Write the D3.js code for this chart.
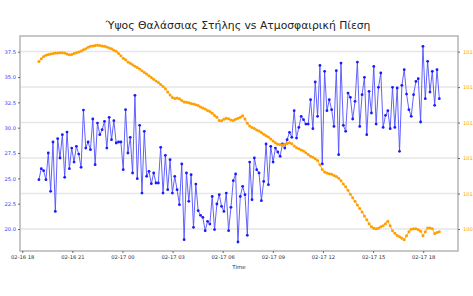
<!DOCTYPE html>
<html>
<head>
<meta charset="utf-8">
<script src="https://cdn.jsdelivr.net/npm/d3@7"></script>
<style>
  body { margin: 0; background: #fff; }
  svg { display: block; font-family: "DejaVu Sans", sans-serif; }
</style>
</head>
<body>
<div id="chart"></div>
<script>
// water column height, one reading per step (left axis)
const waterLevel = [
  24.87, 25.96, 25.76, 24.87, 27.50, 23.72, 28.59, 21.74, 28.92, 27.01, 29.31, 25.10, 29.57, 25.96, 27.99, 26.61,
  28.16, 27.40, 26.09, 31.74, 27.99, 28.59, 27.83, 30.86, 26.35, 30.46, 29.31, 29.80, 30.63, 27.99, 31.02,
  28.82, 30.69, 28.49, 28.59, 28.59, 25.86, 31.78, 27.50, 29.05, 25.53, 33.19, 24.97, 30.23, 23.55, 29.64, 25.20,
  25.69, 24.47, 25.53, 24.54, 24.54, 28.06, 23.55, 27.27, 23.88, 26.84, 23.55, 25.20, 23.88, 22.40, 26.42, 18.95,
  25.53, 22.73, 25.36, 20.17, 24.44, 21.81, 21.35, 21.15, 19.84, 20.76, 20.49, 23.22, 19.94, 22.47, 23.39, 22.24,
  21.74, 23.55, 19.84, 22.14, 24.77, 25.43, 18.72, 23.22, 24.21, 23.39, 19.38, 26.61, 22.90, 27.01, 25.86,
  25.53, 22.80, 24.70, 28.39, 24.38, 28.16, 26.61, 27.99, 27.60, 27.17, 28.39, 27.99, 28.82, 29.54, 29.05, 31.68,
  28.98, 30.03, 31.12, 30.79, 30.36, 30.36, 32.76, 29.90, 34.51, 31.12, 36.15, 26.42, 35.56, 31.68, 32.76,
  31.78, 30.13, 35.63, 27.34, 36.38, 30.23, 29.64, 33.42, 33.00, 30.86, 32.60, 36.48, 30.13, 33.26, 34.97, 29.31,
  33.59, 31.45, 36.05, 30.36, 33.98, 35.40, 30.03, 31.22, 31.68, 29.90, 33.98, 30.03, 33.92, 27.67, 34.18, 35.73,
  33.32, 31.78, 31.12, 33.26, 34.57, 34.84, 30.56, 38.03, 32.86, 36.55, 33.52, 35.56, 32.21, 35.73, 32.86
];

// atmospheric pressure, same timestamps (right axis)
const pressure = [
  1013.72, 1013.80, 1013.86, 1013.90, 1013.92, 1013.93, 1013.95, 1013.96, 1013.96, 1013.97, 1013.97, 1013.96,
  1013.93, 1013.91, 1013.92, 1013.95, 1013.97, 1013.99, 1014.02, 1014.05, 1014.08, 1014.12, 1014.15, 1014.16,
  1014.17, 1014.18, 1014.17, 1014.16, 1014.15, 1014.13, 1014.10, 1014.08, 1014.04, 1014.01, 1013.95, 1013.88,
  1013.81, 1013.77, 1013.71, 1013.67, 1013.63, 1013.59, 1013.55, 1013.51, 1013.46, 1013.41, 1013.37, 1013.32,
  1013.27, 1013.22, 1013.17, 1013.13, 1013.07, 1013.02, 1012.95, 1012.86, 1012.78, 1012.71, 1012.68, 1012.69,
  1012.67, 1012.62, 1012.58, 1012.57, 1012.56, 1012.54, 1012.52, 1012.50, 1012.48, 1012.44, 1012.41, 1012.38,
  1012.34, 1012.31, 1012.26, 1012.20, 1012.15, 1012.06, 1012.05, 1012.09, 1012.12, 1012.11, 1012.07, 1012.06,
  1012.09, 1012.12, 1012.15, 1012.19, 1012.10, 1011.98, 1011.90, 1011.86, 1011.83, 1011.79, 1011.76, 1011.72,
  1011.67, 1011.63, 1011.59, 1011.54, 1011.48, 1011.43, 1011.39, 1011.38, 1011.37, 1011.39, 1011.41, 1011.43,
  1011.40, 1011.34, 1011.29, 1011.26, 1011.23, 1011.20, 1011.15, 1011.10, 1011.05, 1011.02, 1010.98, 1010.93,
  1010.81, 1010.68, 1010.61, 1010.58, 1010.56, 1010.54, 1010.51, 1010.48, 1010.43, 1010.36, 1010.27, 1010.19,
  1010.09, 1009.98, 1009.88, 1009.78, 1009.68, 1009.58, 1009.48, 1009.37, 1009.26, 1009.15, 1009.06, 1009.02,
  1009.01, 1009.02, 1009.06, 1009.09, 1009.15, 1009.22, 1009.09, 1008.95, 1008.88, 1008.82, 1008.78, 1008.74,
  1008.70, 1008.81, 1008.92, 1008.99, 1009.01, 1009.01, 1008.98, 1008.94, 1008.81, 1008.92, 1009.03, 1009.03,
  1009.01, 1008.87, 1008.90, 1008.92
];

const startTime = new Date(2024, 1, 16, 19, 0);
const endTime = new Date(2024, 1, 17, 18, 58);
const leftTicks = [20, 22.5, 25, 27.5, 30, 32.5, 35, 37.5];
const rightTicks = [1009, 1010, 1011, 1012, 1013, 1014];

const step = (endTime - startTime) / (waterLevel.length - 1);
const times = waterLevel.map((d, i) => new Date(+startTime + i * step));

const dimensions = { width: 473, height: 296, left: 20, right: 458, top: 36, bottom: 251 };

const x = d3.scaleTime()
  .domain([new Date(2024, 1, 16, 17, 52), new Date(2024, 1, 17, 20, 5)])
  .range([dimensions.left, dimensions.right]);
const yLeft = d3.scaleLinear().domain([17.83, 39.05]).range([dimensions.bottom, dimensions.top]);
const yRight = d3.scaleLinear().domain([1008.38, 1014.44]).range([dimensions.bottom, dimensions.top]);

const svg = d3.select("#chart").append("svg")
  .attr("width", dimensions.width)
  .attr("height", dimensions.height);

// grid comes from the right axis ticks
svg.append("g")
  .selectAll("line")
  .data(rightTicks)
  .join("line")
  .attr("x1", dimensions.left).attr("x2", dimensions.right)
  .attr("y1", d => yRight(d)).attr("y2", d => yRight(d))
  .attr("stroke", "#e6e6e6")
  .attr("stroke-width", 1.5);

const blueLine = d3.line().x((d, i) => x(times[i])).y(d => yLeft(d));
svg.append("path")
  .datum(waterLevel)
  .attr("d", blueLine)
  .attr("fill", "none")
  .attr("stroke", "#5050ff")
  .attr("stroke-width", 0.9);
svg.append("g")
  .selectAll("circle")
  .data(waterLevel)
  .join("circle")
  .attr("cx", (d, i) => x(times[i]))
  .attr("cy", d => yLeft(d))
  .attr("r", 1.4)
  .attr("fill", "#1a1aff");

const orangeLine = d3.line().x((d, i) => x(times[i])).y(d => yRight(d));
svg.append("path")
  .datum(pressure)
  .attr("d", orangeLine)
  .attr("fill", "none")
  .attr("stroke", "#ffb030")
  .attr("stroke-width", 1);
svg.append("g")
  .selectAll("circle")
  .data(pressure)
  .join("circle")
  .attr("cx", (d, i) => x(times[i]))
  .attr("cy", d => yRight(d))
  .attr("r", 1.5)
  .attr("fill", "#ffa000");

// frame
svg.append("rect")
  .attr("x", dimensions.left).attr("y", dimensions.top)
  .attr("width", dimensions.right - dimensions.left)
  .attr("height", dimensions.bottom - dimensions.top)
  .attr("fill", "none")
  .attr("stroke", "#b5b5b5")
  .attr("stroke-width", 1.5);

const xAxis = svg.append("g")
  .attr("transform", `translate(0,${dimensions.bottom})`)
  .call(d3.axisBottom(x)
    .tickValues(d3.timeHour.every(3).range(new Date(2024, 1, 16, 18), new Date(2024, 1, 17, 19)))
    .tickFormat(d3.timeFormat("%m-%d %H"))
    .tickSize(2).tickPadding(2));

const leftAxis = svg.append("g")
  .attr("transform", `translate(${dimensions.left},0)`)
  .call(d3.axisLeft(yLeft).tickValues(leftTicks).tickFormat(d3.format(".1f")).tickSize(2).tickPadding(2));

const rightAxis = svg.append("g")
  .attr("transform", `translate(${dimensions.right},0)`)
  .call(d3.axisRight(yRight).tickValues(rightTicks).tickFormat(d3.format("d")).tickSize(2).tickPadding(3));

[xAxis, leftAxis, rightAxis].forEach(a => {
  a.select(".domain").remove();
  a.selectAll("line").attr("stroke", "#666");
  a.selectAll("text").attr("font-family", "DejaVu Sans").attr("font-size", 5.2);
});
xAxis.selectAll("text").attr("fill", "#333");
leftAxis.selectAll("text").attr("fill", "#3a3aff");
rightAxis.selectAll("text").attr("fill", "#ffa500");

svg.append("text")
  .attr("x", (dimensions.left + dimensions.right) / 2)
  .attr("y", 268.5)
  .attr("text-anchor", "middle")
  .attr("font-size", 5.5)
  .attr("fill", "#333")
  .text("Time");

svg.append("text")
  .attr("x", 238)
  .attr("y", 29)
  .attr("text-anchor", "middle")
  .attr("font-size", 10.8)
  .attr("fill", "#222")
  .text("Ύψος Θαλάσσιας Στήλης vs Ατμοσφαιρική Πίεση");
</script>
</body>
</html>
